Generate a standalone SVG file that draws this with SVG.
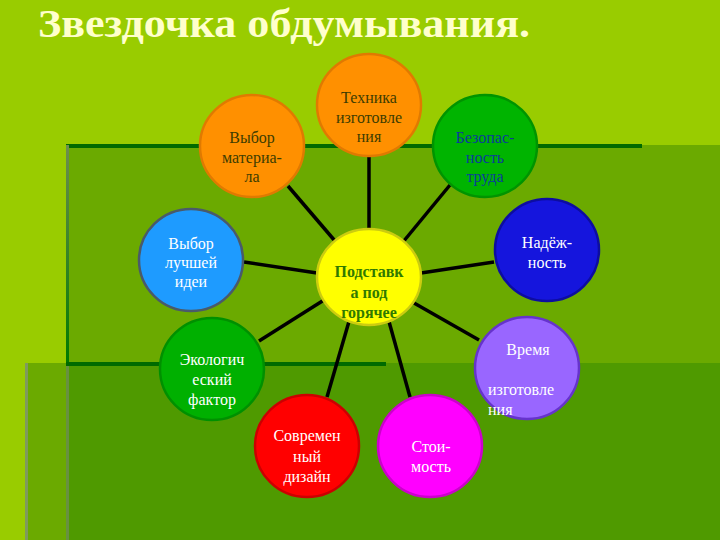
<svg xmlns="http://www.w3.org/2000/svg" width="720" height="540" viewBox="0 0 720 540">
<defs>
<linearGradient id="vline" x1="0" y1="0" x2="0" y2="1">
<stop offset="0" stop-color="#6E8E50"/>
<stop offset="1" stop-color="#007A00"/>
</linearGradient>
<style>
.t{font-family:"Liberation Serif","Times New Roman",serif;font-size:16px;text-anchor:middle}
.w{fill:#FFFFFF}
.ol{fill:#3D3D00}
.c{stroke:#000;stroke-width:3.5;fill:none}
.n{stroke-width:2.5}
</style>
</defs>
<rect width="720" height="540" fill="#99CC00"/>
<g id="background">
<rect x="66" y="145" width="654" height="395" fill="#6BAA00"/>
<rect x="25" y="363" width="41" height="177" fill="#6BAA00"/>
<rect x="66" y="363" width="654" height="177" fill="#4F9A00"/>
<rect x="66" y="144" width="576" height="4" fill="#006A00"/>
<rect x="66" y="145" width="3" height="218" fill="url(#vline)"/>
<rect x="66" y="363" width="3" height="177" fill="#6E8E50" opacity="0.8"/>
<rect x="25" y="363" width="3" height="177" fill="#7E9A5E"/>
<rect x="66" y="362" width="320" height="4" fill="#006A00"/>
</g>
<text x="38" y="37" font-family="'Liberation Serif','Times New Roman',serif" font-weight="bold" font-size="39" fill="#FFFFCC" textLength="492" lengthAdjust="spacingAndGlyphs">Звездочка обдумывания.</text>
<g id="connectors">
<line class="c" x1="369" y1="157" x2="369" y2="229"/>
<line class="c" x1="288" y1="186" x2="335" y2="241"/>
<line class="c" x1="450" y1="185" x2="403" y2="242"/>
<line class="c" x1="244" y1="262" x2="317" y2="273"/>
<line class="c" x1="494" y1="262" x2="421" y2="273"/>
<line class="c" x1="259" y1="341" x2="324" y2="300"/>
<line class="c" x1="479" y1="340" x2="414" y2="303"/>
<line class="c" x1="327" y1="397" x2="350" y2="318"/>
<line class="c" x1="410" y1="397" x2="388" y2="318"/>
</g>
<g id="center">
<ellipse class="n" cx="369" cy="277" rx="52" ry="48" fill="#FFFF00" stroke="#CCCC10"/>
<text class="t" x="369" y="277" font-weight="bold" fill="#2F7A00">Подставк</text>
<text class="t" x="369" y="298" font-weight="bold" fill="#2F7A00">а под</text>
<text class="t" x="369" y="318" font-weight="bold" fill="#2F7A00">горячее</text>
</g>
<g id="tehnika">
<ellipse class="n" cx="369" cy="105" rx="52" ry="51" fill="#FF9000" stroke="#E07A00"/>
<text class="t ol" x="369" y="103">Техника</text>
<text class="t ol" x="369" y="123">изготовле</text>
<text class="t ol" x="369" y="142">ния</text>
</g>
<g id="material">
<ellipse class="n" cx="252" cy="146" rx="52" ry="51" fill="#FF9000" stroke="#E07A00"/>
<text class="t ol" x="252" y="143">Выбор</text>
<text class="t ol" x="252" y="163">материа-</text>
<text class="t ol" x="252" y="182">ла</text>
</g>
<g id="bezopasnost">
<ellipse class="n" cx="485" cy="146" rx="52" ry="51" fill="#00B400" stroke="#009400"/>
<text class="t" x="485" y="143" fill="#0A3D9A">Безопас-</text>
<text class="t" x="485" y="163" fill="#0A3D9A">ность</text>
<text class="t" x="485" y="182" fill="#0A3D9A">труда</text>
</g>
<g id="idea">
<ellipse class="n" cx="191" cy="260" rx="52" ry="51" fill="#1E9BFF" stroke="#4A5A6A"/>
<text class="t w" x="191" y="249">Выбор</text>
<text class="t w" x="191" y="268">лучшей</text>
<text class="t w" x="191" y="287">идеи</text>
</g>
<g id="nadezhnost">
<ellipse class="n" cx="547" cy="250" rx="52" ry="51" fill="#1515DD" stroke="#0D0DA0"/>
<text class="t w" x="547" y="248">Надёж-</text>
<text class="t w" x="547" y="268">ность</text>
</g>
<g id="ekologia">
<ellipse class="n" cx="212" cy="369" rx="52" ry="51" fill="#00B000" stroke="#009000"/>
<text class="t w" x="212" y="365">Экологич</text>
<text class="t w" x="212" y="385">еский</text>
<text class="t w" x="212" y="405">фактор</text>
</g>
<g id="vremya">
<ellipse class="n" cx="527" cy="368" rx="52" ry="51" fill="#9966FF" stroke="#6633CC"/>
<text class="t w" x="528" y="355">Время</text>
<text class="t w" x="488" y="395" style="text-anchor:start">изготовле</text>
<text class="t w" x="488" y="415" style="text-anchor:start">ния</text>
</g>
<g id="dizain">
<ellipse class="n" cx="307" cy="446" rx="52" ry="51" fill="#FF0000" stroke="#CC0000"/>
<text class="t w" x="307" y="441">Современ</text>
<text class="t w" x="307" y="462">ный</text>
<text class="t w" x="307" y="482">дизайн</text>
</g>
<g id="stoimost">
<ellipse class="n" cx="430" cy="446" rx="52" ry="51" fill="#FF00FF" stroke="#CC00CC"/>
<text class="t w" x="431" y="452">Стои-</text>
<text class="t w" x="431" y="472">мость</text>
</g>
</svg>
